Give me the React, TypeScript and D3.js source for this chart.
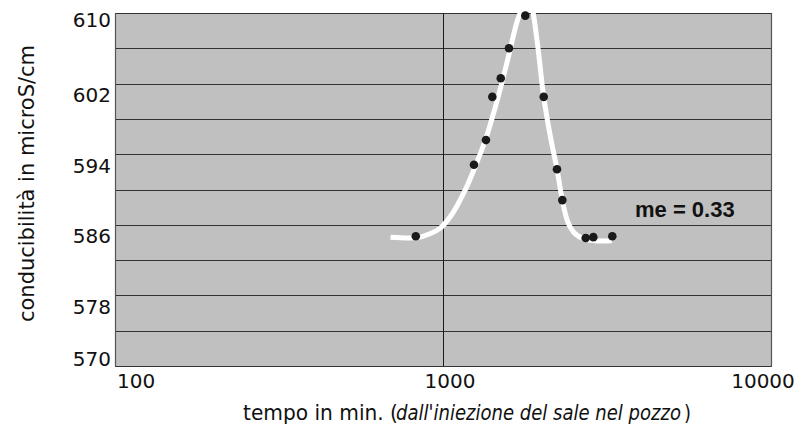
import React from "react";
import * as d3 from "d3";

const yTicks = [570, 578, 586, 594, 602, 610];
const gridValues = [570, 574, 578, 582, 586, 590, 594, 598, 602, 606, 610];
const xTicks = [100, 1000, 10000];
const xTickLabels = ["100", "1000", "10000"];

const obsTime = [826, 1243, 1352, 1414, 1500, 1589, 1782, 2028, 2226, 2311, 2723, 2873, 3282];
const obsValue = [584.7, 592.8, 595.6, 600.5, 602.6, 606.0, 609.7, 600.5, 592.3, 588.8, 584.5, 584.6, 584.7];

const fitTime = [692, 839, 913, 979, 1065, 1167, 1260, 1352, 1440, 1524, 1601, 1681, 1766, 1791, 1855, 1935, 2028, 2120, 2226, 2311, 2404, 2526, 2691, 2907, 3275];
const fitValue = [584.6, 584.56, 585.0, 585.6, 587.2, 589.9, 592.8, 595.8, 599.2, 602.6, 605.8, 609.0, 611.2, 612.4, 611.2, 606.9, 600.5, 596.2, 592.3, 588.8, 586.3, 585.0, 584.4, 584.2, 584.2];

const W = 805;
const H = 426;
const L = 115, R = 771, T = 13, B = 366;

export default function App() {
  const x = d3.scaleLog().domain([100, 10000]).range([L, R]);
  const y = d3.scaleLinear().domain([570, 610]).range([B, T]);

  const fitPts: [number, number][] = fitTime.map((t, i) => [x(t), y(fitValue[i])]);
  const line = d3.line().curve(d3.curveCatmullRom.alpha(0.5))(fitPts) || "";

  const tickFont = "'DejaVu Sans', 'Noto Sans', sans-serif";
  const yLabelDy = (v: number) => (v === 610 ? 14 : v === 570 ? 0 : 18.5);
  const xLabelAnchor = ["start", "middle", "middle"];
  const xLabelDx = [2, 7, -8];

  return (
    <svg width={W} height={H} style={{ position: "absolute", left: 0, top: 0 }}>
      <rect x={0} y={0} width={W} height={H} fill="#fff" />
      <rect x={L} y={T} width={R - L} height={B - T} fill="#c0c0c0" />
      {gridValues.map((v) => (
        <line key={v} x1={L} x2={R} y1={Math.round(y(v)) + 0.5} y2={Math.round(y(v)) + 0.5} stroke="#333" strokeWidth={1} />
      ))}
      <line x1={Math.round(x(1000)) + 0.5} x2={Math.round(x(1000)) + 0.5} y1={T} y2={B} stroke="#1a1a1a" strokeWidth={1} />
      <line x1={L + 0.5} x2={L + 0.5} y1={T} y2={B + 1} stroke="#555" strokeWidth={1.2} />
      <line x1={R + 0.5} x2={R + 0.5} y1={T} y2={B + 1} stroke="#555" strokeWidth={1.2} />

      <path d={line} fill="none" stroke="#fff" strokeWidth={5} />

      {obsTime.map((t, i) => (
        <circle key={i} cx={x(t)} cy={y(obsValue[i])} r={4.3} fill="#1a1a1a" />
      ))}

      {yTicks.map((v) => (
        <text key={v} x={111} y={y(v) + yLabelDy(v)} textAnchor="end" fontFamily={tickFont} fontSize={20} fill="#111">
          {v}
        </text>
      ))}
      {xTicks.map((v, i) => (
        <text key={v} x={x(v) + xLabelDx[i]} y={388} textAnchor={xLabelAnchor[i]} fontFamily={tickFont} fontSize={20} fill="#111">
          {xTickLabels[i]}
        </text>
      ))}

      <text x={635} y={217} fontFamily="'Liberation Sans', Arial, sans-serif" fontWeight="bold" fontSize={22} fill="#111">
        me = 0.33
      </text>

      <text x={243} y={420} fontFamily={tickFont} fontSize={21} fill="#111" textLength={155} lengthAdjust="spacingAndGlyphs">
        {"tempo in min. ("}
      </text>
      <text x={396} y={420} fontFamily={tickFont} fontSize={21} fontStyle="italic" fill="#111" textLength={285} lengthAdjust="spacingAndGlyphs">
        {"dall'iniezione del sale nel pozzo"}
      </text>
      <text x={684} y={420} fontFamily={tickFont} fontSize={21} fill="#111" textLength={7} lengthAdjust="spacingAndGlyphs">
        {")"}
      </text>

      <text transform={`translate(34,183.5) rotate(-90)`} textAnchor="middle" fontFamily={tickFont} fontSize={21} fill="#111" textLength={277} lengthAdjust="spacingAndGlyphs">
        conducibilità in microS/cm
      </text>
    </svg>
  );
}
